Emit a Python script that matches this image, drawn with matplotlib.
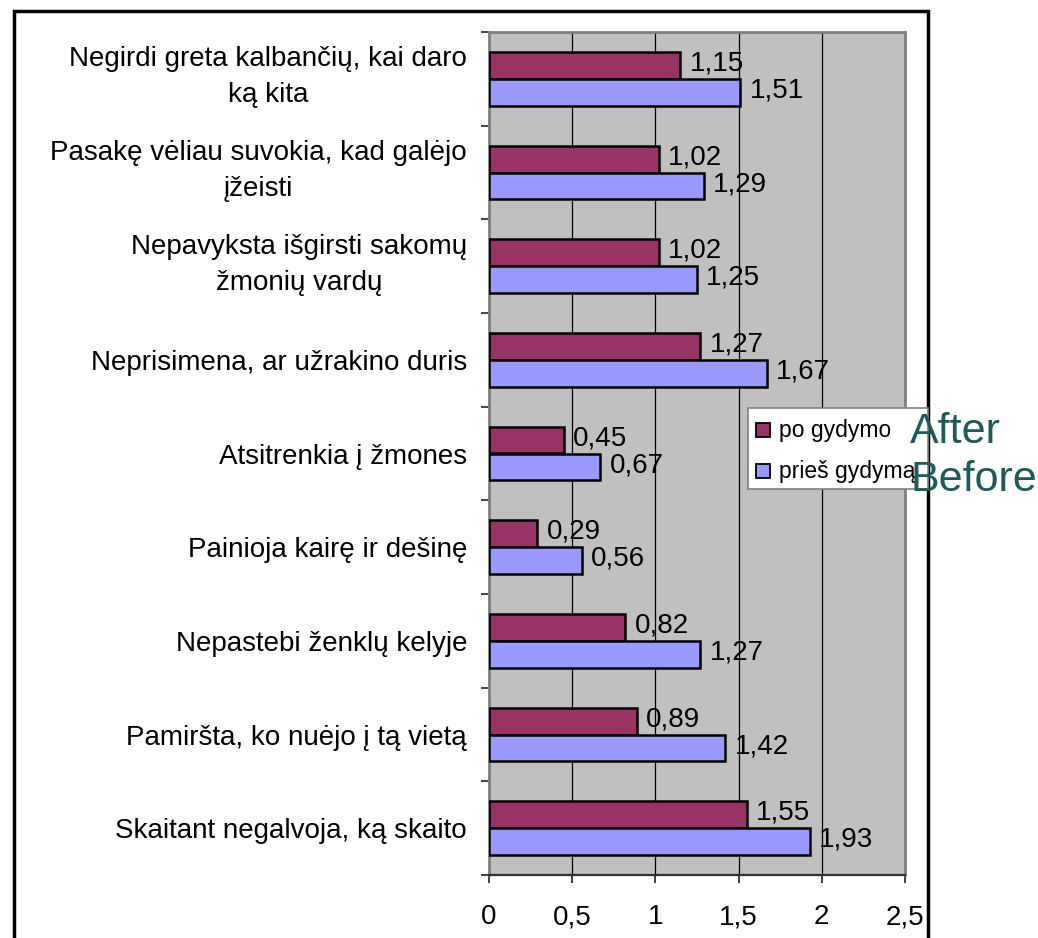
import matplotlib
matplotlib.use("Agg")
import matplotlib.pyplot as plt
import numpy as np
from matplotlib.patches import Rectangle
from matplotlib.transforms import Bbox, ScaledTranslation

plt.rcParams['font.family'] = ['Liberation Sans', 'DejaVu Sans']

categories = [
    "Negirdi greta kalbančių, kai daro\nką kita",
    "Pasakę vėliau suvokia, kad galėjo\nįžeisti",
    "Nepavyksta išgirsti sakomų\nžmonių vardų",
    "Neprisimena, ar užrakino duris",
    "Atsitrenkia į žmones",
    "Painioja kairę ir dešinę",
    "Nepastebi ženklų kelyje",
    "Pamiršta, ko nuėjo į tą vietą",
    "Skaitant negalvoja, ką skaito",
]
po_gydymo = [1.15, 1.02, 1.02, 1.27, 0.45, 0.29, 0.82, 0.89, 1.55]
pries_gydyma = [1.51, 1.29, 1.25, 1.67, 0.67, 0.56, 1.27, 1.42, 1.93]
xticks = [0, 0.5, 1, 1.5, 2, 2.5]
xtick_labels = ["0", "0,5", "1", "1,5", "2", "2,5"]
series_names = ["po gydymo", "prieš gydymą"]

c_after = "#993366"
c_before = "#9999FF"

W, H = 1038, 938
fig = plt.figure(figsize=(W / 100, H / 100), dpi=100)

# plot area in pixel coordinates (from top-left)
L, R, T, B = 489, 905, 32, 875
ax = fig.add_axes([L / W, 1 - B / H, (R - L) / W, (B - T) / H])
ax.set_facecolor("#C0C0C0")

n = len(categories)
y = np.arange(n)
h = 0.2857
ax.barh(y - h / 2, po_gydymo, height=h, color=c_after, edgecolor="black",
        linewidth=1.8, zorder=3)
ax.barh(y + h / 2, pries_gydyma, height=h, color=c_before, edgecolor="black",
        linewidth=1.8, zorder=3)

def fmt(v):
    return f"{v:.2f}".replace(".", ",")

FS = 20
for yi, v in zip(y, po_gydymo):
    ax.text(v + 0.055, yi - h / 2 - 0.02, fmt(v), va="center", ha="left",
            fontsize=FS, zorder=4)
for yi, v in zip(y, pries_gydyma):
    ax.text(v + 0.055, yi + h / 2 - 0.02, fmt(v), va="center", ha="left",
            fontsize=FS, zorder=4)

ax.set_xlim(0, 2.5)
ax.set_ylim(n - 0.5, -0.5)
ax.set_xticks(xticks)
ax.set_xticklabels(xtick_labels, fontsize=FS)
ax.tick_params(axis="x", direction="out", length=6, width=1.2, pad=15,
               color="#202020")
ax.xaxis.grid(True, color="black", linewidth=0.9, zorder=1)
ax.set_axisbelow(True)

ax.set_yticks(y)
ax.set_yticks(np.arange(n + 1) - 0.5, minor=True)
ax.tick_params(axis="y", which="major", length=0)
ax.set_yticklabels([])
ax.tick_params(axis="y", which="minor", direction="out", length=6, width=1.2,
               color="#202020")

# category names, right-aligned left of the axis; two-line names sit a bit higher
ylab = ax.get_yaxis_transform()
for yi, name in zip(y, categories):
    dy = 9.5 / 100 if "\n" in name else 0
    tr = ylab + ScaledTranslation(-22 / 100, dy, fig.dpi_scale_trans)
    ax.text(0, yi, name, transform=tr, fontsize=FS, ha="right",
            va="center_baseline", multialignment="center", linespacing=1.5)

for s in ["top", "right"]:
    ax.spines[s].set_color("#808080")
    ax.spines[s].set_linewidth(2)
ax.spines["left"].set_color("#808080")
ax.spines["left"].set_linewidth(2)
ax.spines["bottom"].set_color("#303030")
ax.spines["bottom"].set_linewidth(1.6)

# outer chart frame
def fx(px):
    return px / W

def fy(py):
    return 1 - py / H

frame = Rectangle((fx(14), fy(960)), fx(928) - fx(14), fy(11) - fy(960),
                  transform=fig.transFigure, fill=False, edgecolor="black",
                  linewidth=2.5, zorder=5)
fig.add_artist(frame)

# legend box, clipped at the frame
clip = Bbox.from_extents(0, 0, 927, H)
leg = Rectangle((fx(748), fy(489)), fx(928) - fx(748), fy(408) - fy(489),
                transform=fig.transFigure, facecolor="white",
                edgecolor="#808080", linewidth=1.2, zorder=6)
fig.add_artist(leg)
for i, (name, col) in enumerate(zip(series_names, [c_after, c_before])):
    top = 423 + i * 41
    sq = Rectangle((fx(756), fy(top + 14)), fx(770) - fx(756),
                   fy(top) - fy(top + 14), transform=fig.transFigure,
                   facecolor=col, edgecolor="black", linewidth=1.3, zorder=7)
    fig.add_artist(sq)
    t = fig.text(fx(779), fy(top + 7), name, fontsize=16.5, va="center",
                 ha="left", zorder=7)
    t.set_clip_box(clip)
    t.set_clip_on(True)

teal = "#1F5A5A"
fig.text(fx(910), fy(443), "After", fontsize=31, color=teal, ha="left",
         va="baseline", zorder=8)
fig.text(fx(911), fy(491), "Before", fontsize=31, color=teal, ha="left",
         va="baseline", zorder=8)

fig.savefig("out.png", dpi=100, facecolor="white")
